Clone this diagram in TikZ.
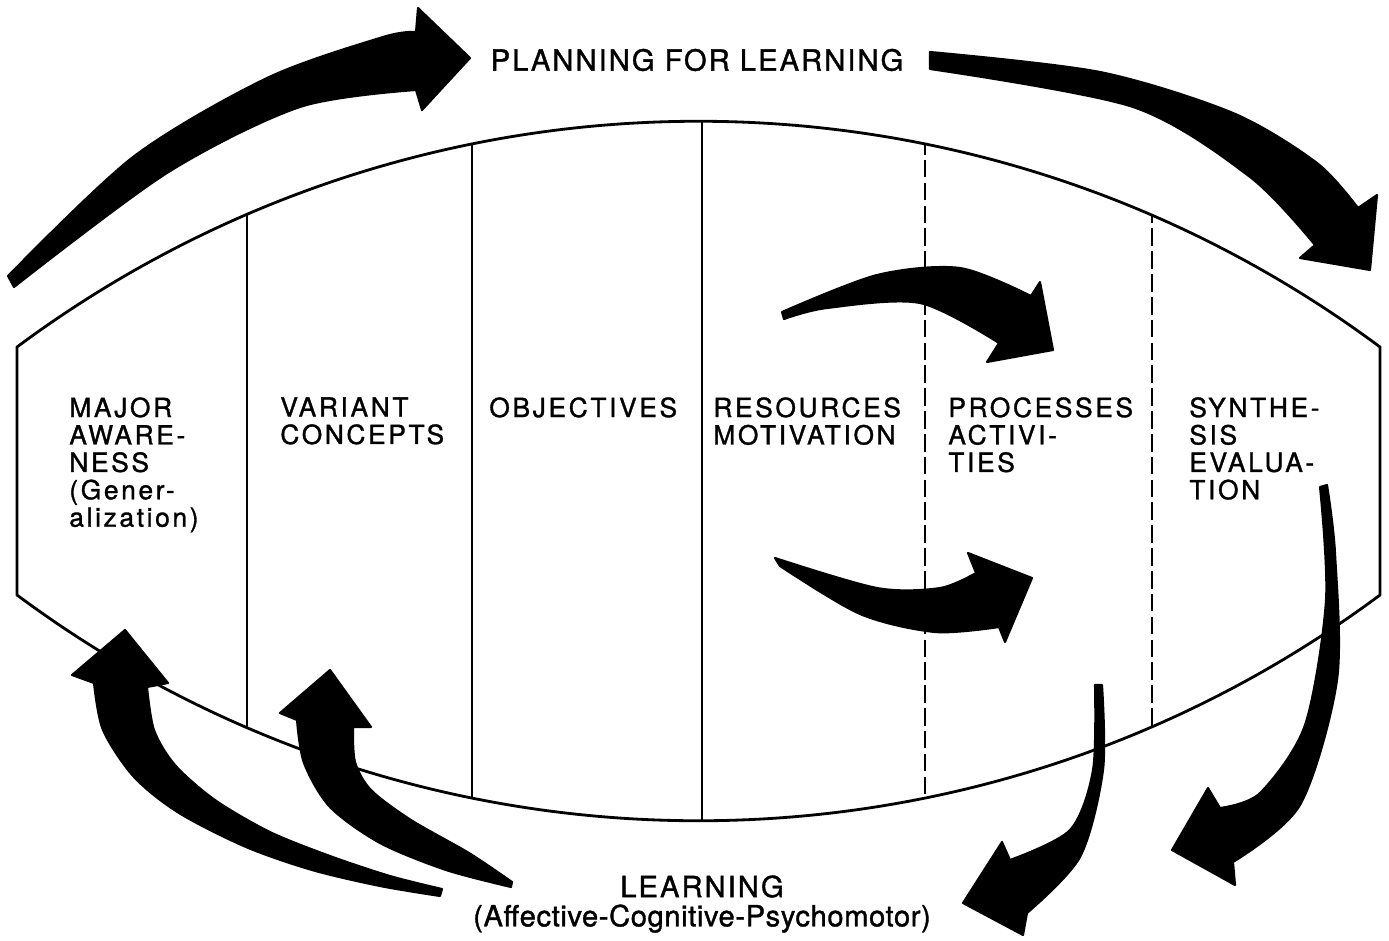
\documentclass[tikz,border=0pt]{standalone}
\usepackage{fontspec}
\usepackage{tikz}
\newfontfamily\headfont{TeX Gyre Heros}[LetterSpace=7, FakeBold=1.2]
\newfontfamily\subfont{TeX Gyre Heros}[LetterSpace=2, FakeBold=1.2]
\newfontfamily\colfont{TeX Gyre Heros}[LetterSpace=10, FakeBold=1.2]
\tikzstyle{lens}       = [line width=1.6pt, line join=round]
\tikzstyle{divider}    = [line width=1.1pt]
\tikzstyle{dashdiv}    = [line width=1.1pt, dash pattern=on 10pt off 3pt]
\tikzstyle{blackarrow} = [fill=black, draw=black, line width=1.2pt, line join=round]
\tikzstyle{colhead}    = [anchor=north west, inner sep=0pt, align=left,
                          font=\colfont\fontsize{15}{15.6}\selectfont]
\tikzstyle{heading}    = [inner sep=0pt, align=center,
                          font=\headfont\fontsize{16.6}{16.6}\selectfont]

\begin{document}
\begin{tikzpicture}[x=0.02cm, y=-0.02cm]
  \useasboundingbox (0,0) rectangle (1389,940);

  \begin{scope}
    \clip (17,595) -- (17,347) .. controls (422,46) and (975,46) .. (1380,347)
          -- (1380,595) .. controls (975,896) and (422,896) .. (17,595) -- cycle;
    \draw[divider] (247,0) -- (247,940);
    \draw[divider] (472,0) -- (472,940);
    \draw[divider] (702,0) -- (702,940);
    \draw[dashdiv] (925,0) -- (925,940);
    \draw[dashdiv] (1152,0) -- (1152,940);
  \end{scope}
  \draw[lens] (17,595) -- (17,347) .. controls (422,46) and (975,46) .. (1380,347)
        -- (1380,595) .. controls (975,896) and (422,896) .. (17,595) -- cycle;

  \node[heading] (plan) at (697,60) {PLANNING FOR LEARNING};
  \node[heading, anchor=north] (learn) at (702,875)
       {LEARNING\\\subfont(Affective-Cognitive-Psychomotor)};

  \node[colhead] (major)      at (69,397)   {MAJOR\\AWARE-\\NESS\\(Gener-\\alization)};
  \node[colhead] (variant)    at (280,397)  {VARIANT\\CONCEPTS};
  \node[colhead] (objectives) at (489,397)  {OBJECTIVES};
  \node[colhead] (resources)  at (713,397)  {RESOURCES\\MOTIVATION};
  \node[colhead] (processes)  at (948,397)  {PROCESSES\\ACTIVI-\\TIES};
  \node[colhead] (synthesis)  at (1189,397) {SYNTHE-\\SIS\\EVALUA-\\TION};

  % planning loop over the top
  \filldraw[blackarrow] plot[smooth] coordinates {(8,276) (133,157) (267,78) (383,37) (416,32)}
     -- (418,8) -- (470,58) -- (422,110)
     -- plot[smooth] coordinates {(416,90) (300,107) (167,173) (14,287)} -- cycle;
  \filldraw[blackarrow] plot[smooth] coordinates {(930,52) (1100,72) (1233,113) (1317,163) (1358,208)}
     -- (1377,195) -- (1370,270) -- (1300,258)
     -- plot[smooth] coordinates {(1315,245) (1250,177) (1133,107) (930,69)} -- cycle;

  % resources into processes
  \filldraw[blackarrow] plot[smooth] coordinates {(782,312) (877,275) (960,268) (1031,296)}
     -- (1040,282) -- (1053,350) -- (987,362)
     -- plot[smooth] coordinates {(999,343) (920,303) (827,308) (784,319)} -- cycle;
  \filldraw[blackarrow] plot[smooth] coordinates {(775,558) (877,588) (940,588) (976,573)}
     -- (968,553) -- (1032,578) -- (1005,642)
     -- plot[smooth] coordinates {(999,627) (935,632) (860,614) (780,566)} -- cycle;

  % learning loop under the bottom
  \filldraw[blackarrow] plot[smooth] coordinates {(440,896) (380,886) (312,870) (246,847) (179,813) (134,777) (103,730) (94,683)}
     -- (72,675) -- (125,630) -- (168,683)
     -- plot[smooth] coordinates {(147,687) (154,730) (175,765) (215,800) (270,832) (330,856) (390,876) (442,889)} -- cycle;
  \filldraw[blackarrow] plot[smooth] coordinates {(511,887) (446,870) (380,843) (330,807) (304,763) (297,720)}
     -- (280,713) -- (330,670) -- (371,727)
     -- plot[smooth] coordinates {(353,727) (355,762) (371,790) (411,820) (469,853) (512,882)} -- cycle;
  \filldraw[blackarrow] plot[smooth] coordinates {(1095,685) (1093,770) (1070,830) (1010,860)}
     -- (1002,842) -- (963,903) -- (1023,935)
     -- plot[smooth] coordinates {(1027,913) (1080,857) (1103,770) (1102,685)} -- cycle;
  \filldraw[blackarrow] plot[smooth] coordinates {(1320,487) (1326,600) (1305,725) (1260,793) (1220,808)}
     -- (1208,788) -- (1172,850) -- (1235,885)
     -- plot[smooth] coordinates {(1233,862) (1300,805) (1337,680) (1335,553) (1327,485)} -- cycle;
\end{tikzpicture}
\end{document}
